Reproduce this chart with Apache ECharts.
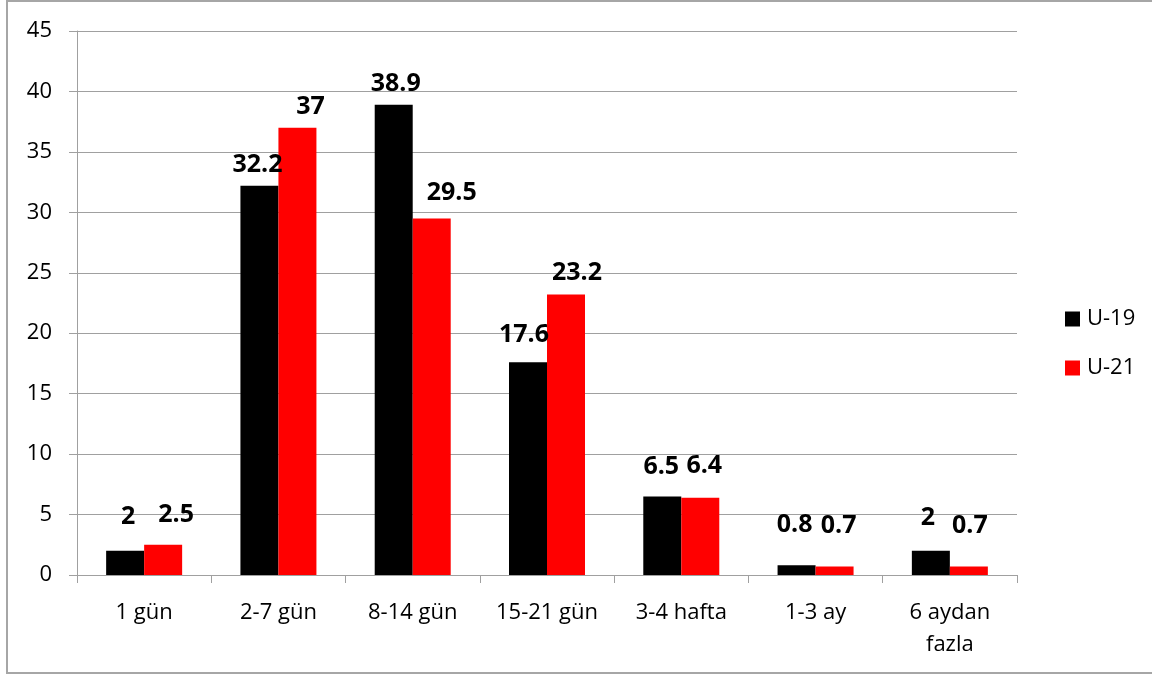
<!DOCTYPE html>
<html>
<head>
<meta charset="utf-8">
<script src="https://cdn.jsdelivr.net/npm/echarts@6/dist/echarts.min.js"></script>
<style>
  html, body { margin: 0; padding: 0; background: #fff; }
  #chart { width: 1152px; height: 675px; }
</style>
</head>
<body>
<div id="chart"></div>
<script>
// Süre kategorileri ve iki yaş grubunun yüzdeleri
const categories = ['1 gün', '2-7 gün', '8-14 gün', '15-21 gün', '3-4 hafta', '1-3 ay', '6 aydan\nfazla'];
const seriesNames = ['U-19', 'U-21'];
const u19Values = [2, 32.2, 38.9, 17.6, 6.5, 0.8, 2];
const u21Values = [2.5, 37, 29.5, 23.2, 6.4, 0.7, 0.7];
const yTicks = { min: 0, max: 45, interval: 5 };

// Hand-placed value labels: [dx, gap above bar top to label centre]
const u19LabelPlace = [[3, 34], [-2, 21], [2, 21], [-4, 27], [-1, 30], [-2, 40], [-3, 33]];
const u21LabelPlace = [[13, 30], [13, 21], [20, 26], [11, 22], [4, 32], [4, 41], [1, 41]];

const FONT = 'Open Sans';
const LABEL_LH = 25;

function withLabels(values, places) {
  return values.map((v, i) => ({
    value: v,
    label: { offset: [places[i][0], -(places[i][1] - LABEL_LH / 2)] }
  }));
}

const chart = echarts.init(document.getElementById('chart'));
chart.setOption({
  animation: false,
  backgroundColor: '#ffffff',
  textStyle: { fontFamily: FONT },
  graphic: [{
    type: 'rect',
    shape: { x: 7, y: 1, width: 1170, height: 672 },
    style: { fill: 'none', stroke: '#a6a6a6', lineWidth: 2 },
    silent: true
  }],
  grid: { left: 77, right: 135, top: 31, bottom: 100 },
  legend: {
    data: seriesNames,
    orient: 'vertical',
    left: 1060,
    top: 303,
    itemWidth: 15,
    itemHeight: 15,
    itemGap: 27,
    icon: 'rect',
    textStyle: { fontFamily: FONT, fontSize: 22, color: '#000', padding: [0, 0, 0, 2] }
  },
  xAxis: {
    type: 'category',
    data: categories,
    axisLine: { lineStyle: { color: '#a0a0a0', width: 1 } },
    axisTick: { show: true, length: 8, alignWithLabel: false, lineStyle: { color: '#a0a0a0' } },
    axisLabel: {
      interval: 0,
      margin: 22,
      fontFamily: FONT,
      fontSize: 22,
      lineHeight: 32,
      color: '#000'
    },
    splitLine: { show: false }
  },
  yAxis: {
    type: 'value',
    min: yTicks.min,
    max: yTicks.max,
    interval: yTicks.interval,
    axisLine: { show: true, lineStyle: { color: '#a0a0a0', width: 1 } },
    axisTick: { show: true, length: 8, lineStyle: { color: '#a0a0a0' } },
    axisLabel: { margin: 25, fontFamily: FONT, fontSize: 22, color: '#000' },
    splitLine: { show: true, lineStyle: { color: '#a0a0a0', width: 1 } }
  },
  series: [
    {
      name: seriesNames[0],
      type: 'bar',
      barWidth: 38,
      barGap: '0%',
      itemStyle: { color: '#000000' },
      label: {
        show: true,
        position: 'top',
        distance: 0,
        fontFamily: FONT,
        fontSize: 25,
        lineHeight: LABEL_LH,
        fontWeight: 'bold',
        color: '#000'
      },
      data: withLabels(u19Values, u19LabelPlace)
    },
    {
      name: seriesNames[1],
      type: 'bar',
      barWidth: 38,
      barGap: '0%',
      itemStyle: { color: '#ff0000' },
      label: {
        show: true,
        position: 'top',
        distance: 0,
        fontFamily: FONT,
        fontSize: 25,
        lineHeight: LABEL_LH,
        fontWeight: 'bold',
        color: '#000'
      },
      data: withLabels(u21Values, u21LabelPlace)
    }
  ]
});
</script>
</body>
</html>
